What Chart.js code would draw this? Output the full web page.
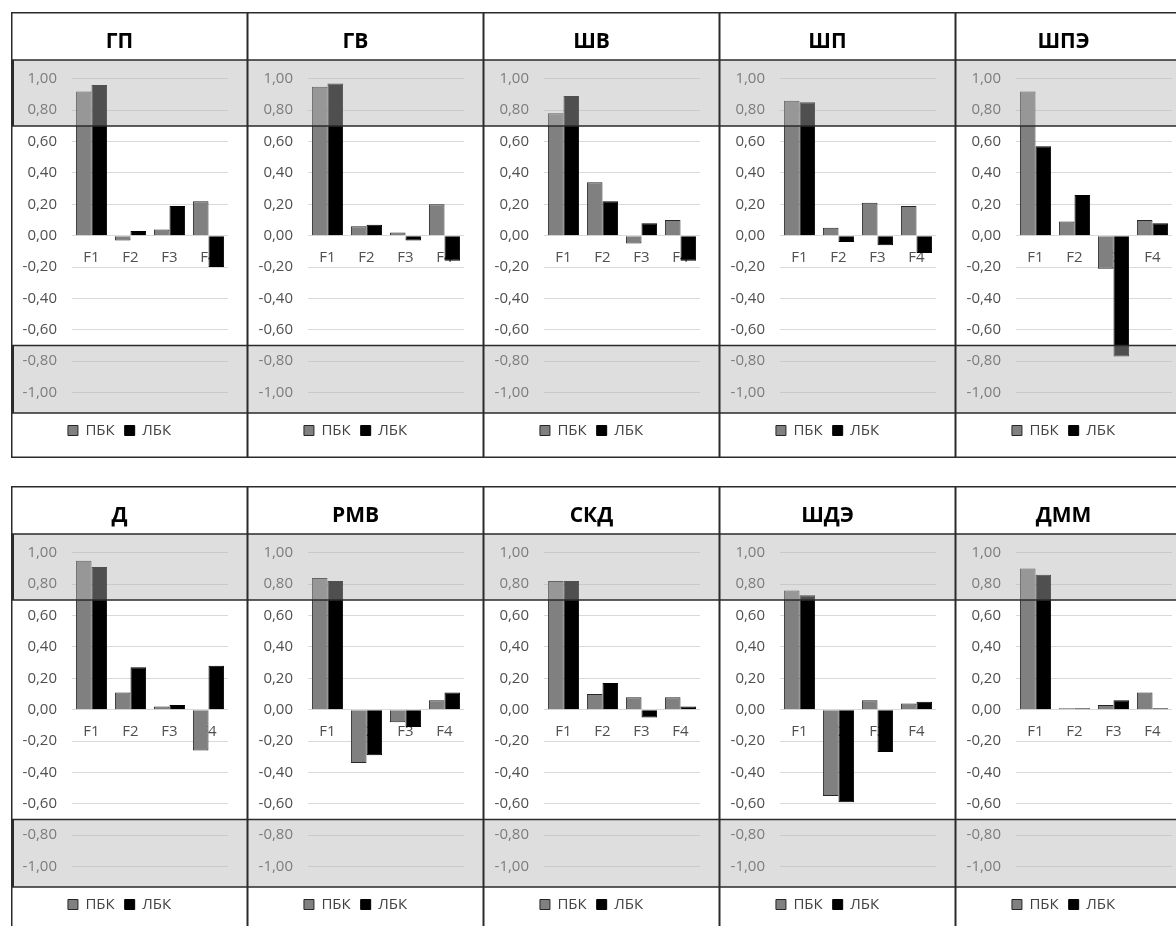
<!DOCTYPE html>
<html lang="ru">
<head>
<meta charset="UTF-8">
<title>Факторные нагрузки ПБК / ЛБК</title>
<script src="https://cdn.jsdelivr.net/npm/chart.js@4.4.1/dist/chart.umd.min.js"></script>
<style>
    html, body {
        margin: 0;
        padding: 0;
        background: #fff;
        width: 1176px;
        height: 926px;
        overflow: hidden;
    }
    #board {
        position: relative;
        width: 1176px;
        height: 926px;
    }
    .panel {
        position: absolute;
    }
</style>
</head>
<body>
<div id="board"></div>
<script>
// Data
const titles = ['ГП', 'ГВ', 'ШВ', 'ШП', 'ШПЭ', 'Д', 'РМВ', 'СКД', 'ШДЭ', 'ДММ'];
const factors = ['F1', 'F2', 'F3', 'F4'];
const seriesNames = ['ПБК', 'ЛБК'];

const pbkValues = [
    [0.92, -0.03, 0.04, 0.22],
    [0.95, 0.06, 0.02, 0.20],
    [0.78, 0.34, -0.05, 0.10],
    [0.86, 0.05, 0.21, 0.19],
    [0.92, 0.09, -0.21, 0.10],
    [0.95, 0.11, 0.02, -0.26],
    [0.84, -0.34, -0.08, 0.06],
    [0.82, 0.10, 0.08, 0.08],
    [0.76, -0.55, 0.06, 0.04],
    [0.90, 0.01, 0.03, 0.11]
];

const lbkValues = [
    [0.96, 0.03, 0.19, -0.20],
    [0.97, 0.07, -0.03, -0.16],
    [0.89, 0.22, 0.08, -0.16],
    [0.85, -0.04, -0.06, -0.11],
    [0.57, 0.26, -0.77, 0.08],
    [0.91, 0.27, 0.03, 0.28],
    [0.82, -0.29, -0.11, 0.11],
    [0.82, 0.17, -0.05, 0.02],
    [0.73, -0.59, -0.27, 0.05],
    [0.86, 0.01, 0.06, 0.01]
];

// Axis range, tick step and the |r| threshold of the shaded bands
const yMin = -1.13;
const yMax = 1.12;
const yStep = 0.2;
const bandLimit = 0.7;

// Grid geometry
const COLS = 5;
const PANEL_W = 237;
const PANEL_H = 446;
const COL_STEP = 236;
const LEFT = 11;
const ROW_TOPS = [12, 486];

Chart.defaults.font.family = "'Open Sans', 'DejaVu Sans', sans-serif";
Chart.defaults.color = '#505050';

// Shaded bands (|r| >= 0.7), their edges and the cell frame
const bandPlugin = {
    id: 'bands',
    afterDraw(chart, args, opts) {
        const { ctx, chartArea, scales } = chart;
        const w = chart.width;
        const h = chart.height;
        const top = chartArea.top;
        const bottom = chartArea.bottom;
        const hiY = scales.y.getPixelForValue(opts.limit);
        const loY = scales.y.getPixelForValue(-opts.limit);

        ctx.save();
        ctx.fillStyle = 'rgba(180, 180, 180, 0.44)';
        ctx.fillRect(0, top, w, hiY - top);
        ctx.fillRect(0, loY, w, bottom - loY);

        ctx.strokeStyle = '#2b2b2b';
        ctx.lineWidth = 1.5;
        ctx.beginPath();
        [top, hiY, loY, bottom].forEach(y => {
            ctx.moveTo(0, y);
            ctx.lineTo(w, y);
        });
        ctx.stroke();
        ctx.strokeRect(0.75, 0.75, w - 1.5, h - 1.5);

        // heavier left edge on the first column inside the bands
        if (opts.firstColumn) {
            ctx.lineWidth = 3;
            ctx.beginPath();
            ctx.moveTo(1.5, top);
            ctx.lineTo(1.5, hiY);
            ctx.moveTo(1.5, loY);
            ctx.lineTo(1.5, bottom);
            ctx.stroke();
        }
        ctx.restore();
    }
};

function formatTick(value) {
    return value.toFixed(2).replace('.', ',');
}

function buildChart(index) {
    const col = index % COLS;
    const row = Math.floor(index / COLS);

    const wrap = document.createElement('div');
    wrap.className = 'panel';
    wrap.style.left = (LEFT + col * COL_STEP) + 'px';
    wrap.style.top = ROW_TOPS[row] + 'px';
    wrap.style.width = PANEL_W + 'px';
    wrap.style.height = PANEL_H + 'px';

    const canvas = document.createElement('canvas');
    canvas.width = PANEL_W;
    canvas.height = PANEL_H;
    wrap.appendChild(canvas);
    document.getElementById('board').appendChild(wrap);

    return new Chart(canvas, {
        type: 'bar',
        data: {
            labels: factors,
            datasets: [
                {
                    label: seriesNames[0],
                    data: pbkValues[index],
                    backgroundColor: '#808080',
                    borderColor: '#262626',
                    borderWidth: 1
                },
                {
                    label: seriesNames[1],
                    data: lbkValues[index],
                    backgroundColor: '#000',
                    borderColor: '#000',
                    borderWidth: 1
                }
            ]
        },
        options: {
            responsive: false,
            animation: false,
            events: [],
            devicePixelRatio: 1,
            layout: {
                padding: { top: 0, left: 0, right: 20, bottom: 10 }
            },
            datasets: {
                bar: {
                    categoryPercentage: 0.8,
                    barPercentage: 1.0
                }
            },
            plugins: {
                title: {
                    display: true,
                    text: titles[index],
                    color: '#000',
                    font: { size: 21, weight: 'bold' },
                    padding: { top: 17, bottom: 5.8 }
                },
                legend: {
                    display: true,
                    position: 'bottom',
                    labels: {
                        boxWidth: 10,
                        boxHeight: 10,
                        padding: 10,
                        color: '#404040',
                        font: { size: 15 }
                    }
                },
                tooltip: { enabled: false },
                bands: {
                    limit: bandLimit,
                    firstColumn: col === 0
                }
            },
            scales: {
                x: {
                    position: { y: 0 },
                    grid: { display: false },
                    border: { display: false },
                    ticks: {
                        padding: 5,
                        maxRotation: 0,
                        color: '#505050',
                        font: { size: 15 }
                    }
                },
                y: {
                    min: yMin,
                    max: yMax,
                    afterFit(scale) {
                        scale.width = 61;
                    },
                    grid: {
                        color: '#d9d9d9',
                        drawTicks: false
                    },
                    border: { display: false },
                    ticks: {
                        stepSize: yStep,
                        includeBounds: false,
                        padding: 15,
                        color: '#505050',
                        font: { size: 15 },
                        callback: formatTick
                    }
                }
            }
        },
        plugins: [bandPlugin]
    });
}

document.addEventListener('DOMContentLoaded', () => {
    titles.forEach((title, i) => buildChart(i));
});
</script>
</body>
</html>
